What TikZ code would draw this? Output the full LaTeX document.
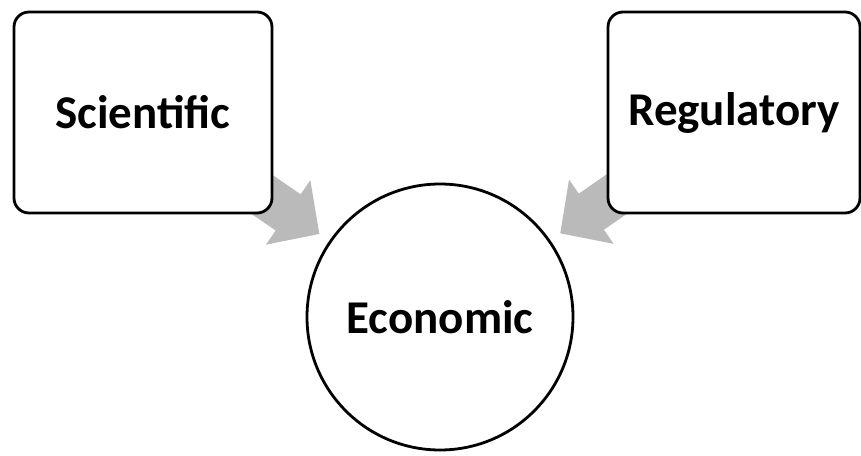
\documentclass[tikz,border=0pt]{standalone}
\usepackage{fontspec}
\setmainfont{Carlito}
\usetikzlibrary{arrows.meta,backgrounds}
\begin{document}
\begin{tikzpicture}[x=1pt,y=-1pt,
  box/.style={draw,line width=2.8pt,rounded corners=15pt,fill=white,minimum height=201pt,font=\fontsize{47}{56}\selectfont\bfseries},
  ring/.style={draw,circle,line width=2.8pt,fill=white,minimum size=266pt,font=\fontsize{47}{56}\selectfont\bfseries},
  feed/.style={black!27,line width=44pt,-{Triangle[width=76pt,length=38pt]},shorten >=12pt}]
\useasboundingbox (0,0) rectangle (861,455);

\node[box,minimum width=258pt] (sci) at (143,112.5) {Scientific};
\node[box,minimum width=252pt] (reg) at (734,112.5) {Regulatory};
\node[ring] (eco) at (440,317) {Economic};

\begin{scope}[on background layer]
\draw[feed] (sci.center) -- (eco);
\draw[feed] (reg.center) -- (eco);
\end{scope}
\end{tikzpicture}
\end{document}
